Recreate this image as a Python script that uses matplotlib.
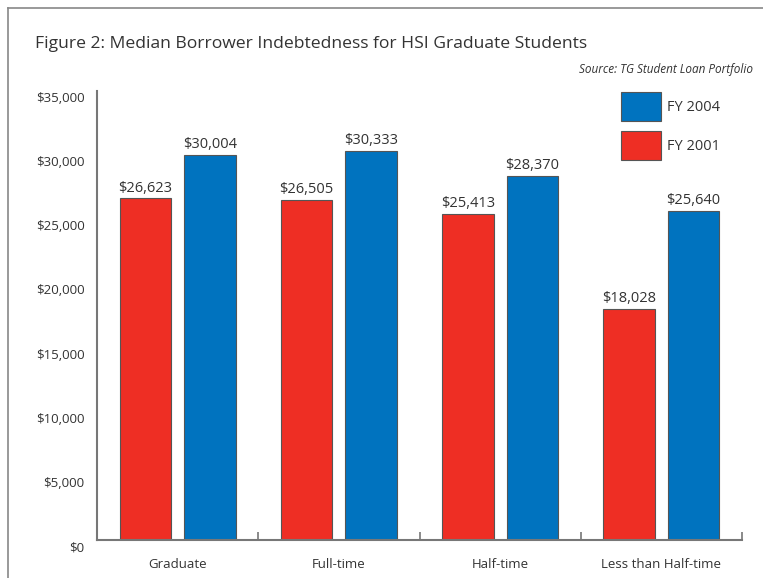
import matplotlib
matplotlib.use("Agg")
import matplotlib.pyplot as plt
import matplotlib.transforms as mtransforms
from matplotlib.lines import Line2D
import numpy as np

categories = ["Graduate", "Full-time", "Half-time", "Less than Half-time"]
fy2001 = [26623, 26505, 25413, 18028]
fy2004 = [30004, 30333, 28370, 25640]
yticks = [0, 5000, 10000, 15000, 20000, 25000, 30000, 35000]
title = "Figure 2: Median Borrower Indebtedness for HSI Graduate Students"
source = "Source: TG Student Loan Portfolio"

RED = "#EE2E24"
BLUE = "#0073BF"
TXT = "#333333"

plt.rcParams['font.family'] = ['Open Sans', 'DejaVu Sans']

W, H = 763, 578
fig = plt.figure(figsize=(W/100, H/100), dpi=100)
ax = fig.add_axes([97/W, (H-540)/H, (742-97)/W, (540-91)/H])

x = np.arange(len(categories))
bw = 0.32
off = 0.2
b1 = ax.bar(x - off, fy2001, bw, color=RED, edgecolor="#555555", linewidth=0.8, label="FY 2001")
b2 = ax.bar(x + off, fy2004, bw, color=BLUE, edgecolor="#555555", linewidth=0.8, label="FY 2004")

for bars in (b1, b2):
    for r in bars:
        v = r.get_height()
        ax.annotate(f"${v:,.0f}", (r.get_x() + r.get_width()/2, v), xytext=(0, 2),
                    textcoords="offset points", ha="center", va="bottom",
                    fontsize=10.5, color=TXT)

ax.set_xlim(-0.5, 3.5)
ax.set_ylim(0, 35000)
ax.set_yticks(yticks)
ax.set_yticklabels([f"${v:,.0f}" for v in yticks], fontsize=9.5, color=TXT)
ax.tick_params(axis="y", length=0, pad=9)
shift = mtransforms.ScaledTranslation(0, -6/100, fig.dpi_scale_trans)
for lab in ax.get_yticklabels():
    lab.set_transform(lab.get_transform() + shift)

ax.set_xticks(x)
ax.set_xticklabels(categories, fontsize=9.5, color=TXT)
ax.tick_params(axis="x", which="major", length=0, pad=13)
ax.set_xticks([0.5, 1.5, 2.5, 3.5], minor=True)
ax.tick_params(axis="x", which="minor", length=6, direction="in", color="#777777", width=1.2)

for s in ["top", "right"]:
    ax.spines[s].set_visible(False)
for s in ["left", "bottom"]:
    ax.spines[s].set_color("#777777")
    ax.spines[s].set_linewidth(1.5)

handles = [b2, b1]
leg = fig.legend(handles, ["FY 2004", "FY 2001"], loc="upper left",
                 bbox_to_anchor=(621/W, 1 - 92/H), bbox_transform=fig.transFigure,
                 frameon=False, fontsize=10.5, handlelength=2.74, handleheight=2.68,
                 handletextpad=0.4, labelspacing=0.69, borderpad=0, borderaxespad=0)
for t in leg.get_texts():
    t.set_color(TXT)

fig.text(35/W, 1 - 44/H, title, fontsize=12.6, color=TXT, ha="left", va="center")
fig.text(753/W, 1 - 70/H, source, fontsize=8.5, style="italic", color=TXT, ha="right", va="center")

fig.add_artist(Line2D([7.5/W, 7.5/W], [0, 1 - 8/H], transform=fig.transFigure, color="#888888", lw=1.2))
fig.add_artist(Line2D([7.5/W, 1], [1 - 8/H, 1 - 8/H], transform=fig.transFigure, color="#888888", lw=1.2))

fig.savefig("out.png", dpi=100)
